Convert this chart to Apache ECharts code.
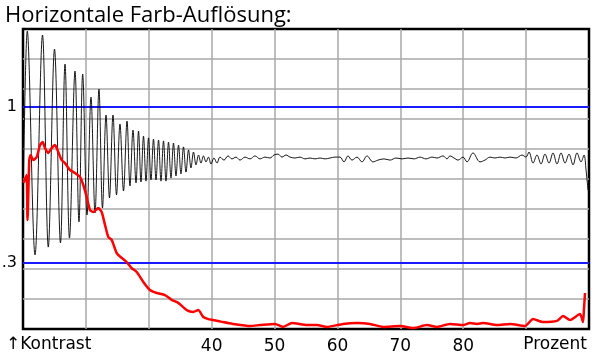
<!DOCTYPE html>
<html><head><meta charset="utf-8">
<script src="https://cdn.jsdelivr.net/npm/echarts@6/dist/echarts.min.js"></script>
<style>html,body{margin:0;padding:0;background:#fff}#c{width:600px;height:364px}</style>
</head><body><div id="c"></div>
<script>
const titleText = "Horizontale Farb-Auflösung:";
const xTickLabels = {40:"40",50:"50",60:"60",70:"70",80:"80"};
const refLevels = [7.4, 2.2];
const refLabels = ["1", ".3"];

const blackX = [10.08,10.68,11.91,13.10,14.02,15.01,15.96,16.68,17.39,18.27,18.90,19.49,20.18,20.81,21.45,22.08,22.64,23.20,23.75,24.31,24.87,25.42,25.98,26.54,27.01,27.49,27.97,28.37,28.76,29.16,29.56,29.96,30.35,30.75,31.15,31.55,31.94,32.34,32.74,33.14,33.53,33.93,34.33,34.73,35.12,35.52,35.92,36.32,36.71,37.11,37.51,37.91,38.30,38.70,39.10,39.50,39.89,40.37,40.85,41.32,41.96,42.60,43.23,43.87,44.51,45.30,46.10,46.89,47.69,48.48,49.28,49.91,50.55,51.18,51.82,52.46,53.25,54.05,54.84,55.64,56.43,57.23,58.02,58.82,59.61,60.41,61.04,61.68,62.31,63.11,63.90,64.70,65.65,66.45,67.40,68.36,69.31,70.27,71.22,72.17,73.13,74.08,75.04,75.83,76.79,77.42,77.90,78.54,79.17,79.97,80.60,81.56,82.67,83.46,84.26,85.05,85.85,86.64,87.44,88.39,89.35,89.98,90.46,91.10,91.73,92.37,93.00,93.64,94.28,94.91,95.55,96.19,96.82,97.46,98.09,98.73,99.21,99.53,99.84];
const blackY = [5.13,9.93,2.47,9.80,2.73,9.33,2.87,8.83,3.03,8.60,3.57,8.50,3.80,7.73,3.87,8.00,4.03,7.13,4.37,7.13,4.47,6.83,4.60,6.93,4.77,6.63,4.87,6.60,4.90,6.43,4.93,6.37,4.97,6.33,4.97,6.30,4.93,6.27,4.93,6.23,5.03,6.20,5.10,6.13,5.17,6.07,5.23,5.97,5.37,5.90,5.47,5.80,5.53,5.77,5.57,5.73,5.50,5.70,5.53,5.73,5.63,5.77,5.67,5.73,5.63,5.73,5.67,5.77,5.67,5.73,5.70,5.80,5.83,5.73,5.80,5.73,5.70,5.73,5.67,5.70,5.67,5.70,5.67,5.70,5.73,5.73,5.57,5.77,5.63,5.73,5.57,5.77,5.57,5.63,5.67,5.63,5.70,5.67,5.70,5.67,5.73,5.67,5.73,5.70,5.77,5.67,5.77,5.70,5.63,5.73,5.57,5.87,5.57,5.63,5.73,5.70,5.73,5.70,5.73,5.70,5.80,5.73,5.90,5.53,5.80,5.50,5.83,5.53,5.87,5.50,5.87,5.53,5.83,5.47,5.87,5.57,5.80,5.30,4.63];

const redX = [10.08,10.56,10.72,11.00,11.22,11.64,12.18,12.70,13.13,13.50,14.02,14.56,15.09,15.61,16.15,16.68,17.47,18.27,19.06,19.59,20.13,20.65,21.18,21.97,22.51,23.04,23.56,24.10,24.90,25.69,26.49,27.28,28.08,29.13,30.19,31.26,32.58,33.64,34.69,36.03,37.08,37.87,38.67,39.46,40.21,41.80,43.39,46.09,47.69,50.07,51.34,52.77,55.16,56.75,58.34,60.88,63.11,65.18,67.24,69.95,72.01,74.24,75.83,77.90,79.96,81.08,82.19,83.15,85.37,87.44,89.82,91.10,92.69,94.91,95.87,96.98,98.57,99.05,99.21,99.37];
const redY = [4.87,5.13,3.63,5.63,5.80,5.63,5.73,6.13,6.23,6.03,5.87,6.03,6.13,5.90,5.63,5.53,5.30,5.20,5.07,4.80,4.40,3.97,3.90,4.03,3.90,3.47,3.07,2.97,2.53,2.37,2.23,2.03,1.90,1.57,1.30,1.20,1.13,0.97,0.87,0.63,0.57,0.63,0.40,0.33,0.30,0.23,0.17,0.10,0.13,0.17,0.07,0.20,0.13,0.13,0.07,0.17,0.20,0.17,0.07,0.10,0.03,0.13,0.07,0.17,0.13,0.20,0.17,0.20,0.13,0.17,0.10,0.33,0.23,0.27,0.43,0.30,0.50,0.23,0.70,1.20];

const FONT = "Open Sans";
const LFONT = "DejaVu Sans";
const chart = echarts.init(document.getElementById('c'), null, {renderer:'canvas'});
chart.setOption({
  animation:false,
  backgroundColor:'#fff',
  grid:{left:23,right:11,top:29,bottom:35,show:true,borderColor:'#000',borderWidth:2.5,backgroundColor:'transparent'},
  xAxis:{type:'value',min:10,max:100,interval:10,
    axisLine:{show:false},axisTick:{show:false},
    splitLine:{show:true,showMinLine:false,showMaxLine:false,lineStyle:{color:'#a8a8a8',width:1.5}},
    axisLabel:{margin:9,fontFamily:LFONT,fontSize:17,color:'#000',formatter:v=>xTickLabels[v]||''}},
  yAxis:{type:'value',min:0,max:10,interval:1,
    axisLine:{show:false},axisTick:{show:false},axisLabel:{show:false},
    splitLine:{show:true,showMinLine:false,showMaxLine:false,lineStyle:{color:'#a8a8a8',width:1.5}}},
  title:{text:titleText,left:0,top:0,textStyle:{fontFamily:FONT,fontSize:22,fontWeight:'normal',color:'#000'}},
  graphic:[
    {type:'text',left:6,top:336,style:{text:'↑Kontrast',font:'17px "'+LFONT+'"',fill:'#000'}},
    {type:'text',right:13,top:336,style:{text:'Prozent',font:'17px "'+LFONT+'"',fill:'#000'}}
  ],
  series:[
    {type:'line',symbol:'none',z:3,smooth:0.35,lineStyle:{color:'#000',width:0.9},
     data:blackX.map((x,i)=>[x,blackY[i]]),
     markLine:{silent:true,symbol:'none',z:2,lineStyle:{color:'#1a1aff',width:2,type:'solid'},
       label:{position:'start',distance:6,fontFamily:LFONT,fontSize:16,color:'#000',formatter:p=>refLabels[p.dataIndex]},
       data:refLevels.map(v=>({yAxis:v}))}},
    {type:'line',symbol:'none',z:4,smooth:0.2,lineStyle:{color:'#ff0000',width:2.5},
     data:redX.map((x,i)=>[x,redY[i]])}
  ]
});
</script></body></html>
